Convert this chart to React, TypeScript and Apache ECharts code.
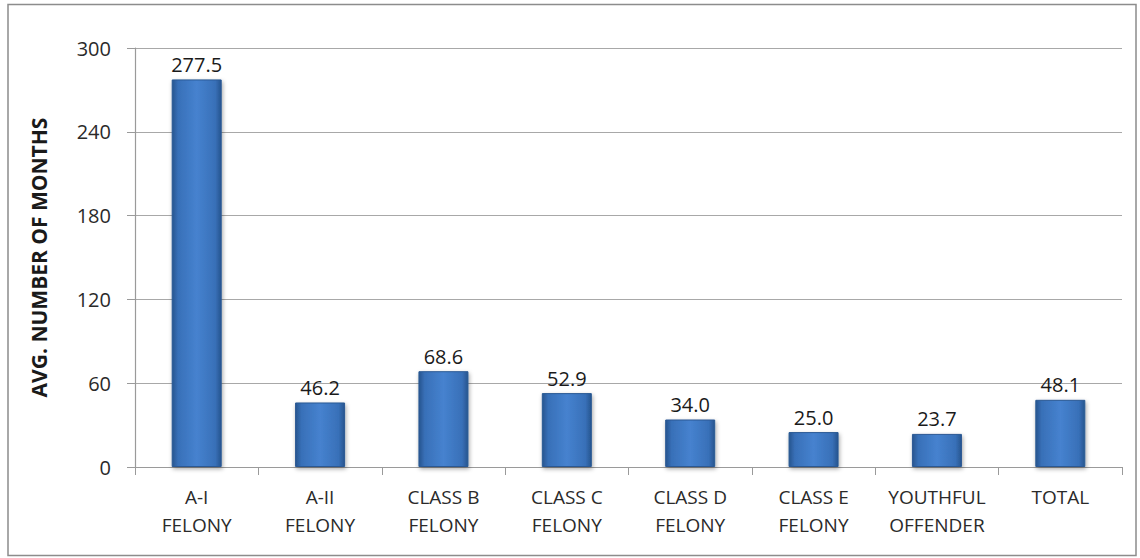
import React, { useEffect, useRef } from "react";
import * as echarts from "echarts";

const categories = ["A-I\nFELONY", "A-II\nFELONY", "CLASS B\nFELONY", "CLASS C\nFELONY", "CLASS D\nFELONY", "CLASS E\nFELONY", "YOUTHFUL\nOFFENDER", "TOTAL"];
const values = [277.5, 46.2, 68.6, 52.9, 34.0, 25.0, 23.7, 48.1];
const yTicks = { min: 0, max: 300, interval: 60 };
const yTitle = "AVG. NUMBER OF MONTHS";

export default function App() {
  const ref = useRef<HTMLDivElement>(null);
  useEffect(() => {
    const chart = echarts.init(ref.current!, null, { renderer: "svg" });
    const font = "'Open Sans', sans-serif";
    chart.setOption({
      animation: false,
      backgroundColor: "#ffffff",
      graphic: [
        {
          type: "rect",
          shape: { x: 8, y: 4.5, width: 1128, height: 551 },
          style: { fill: "none", stroke: "#8c8c8c", lineWidth: 1.5 },
          silent: true,
        },
      ],
      grid: { left: 135, right: 18, top: 48, bottom: 91, containLabel: false },
      xAxis: {
        type: "category",
        data: categories,
        axisLine: { show: true, lineStyle: { color: "#9a9a9a", width: 1.2 } },
        axisTick: { show: true, length: 8, alignWithLabel: false, lineStyle: { color: "#9a9a9a" } },
        axisLabel: {
          color: "#2a2a2a",
          fontSize: 19,
          fontFamily: font,
          lineHeight: 28,
          margin: 16,
          interval: 0,
        },
      },
      yAxis: {
        type: "value",
        min: yTicks.min,
        max: yTicks.max,
        interval: yTicks.interval,
        name: yTitle,
        nameLocation: "middle",
        nameGap: 86,
        nameRotate: 90,
        nameTextStyle: { color: "#1a1a1a", fontSize: 21, fontWeight: "bold", fontFamily: font },
        axisLine: { show: true, lineStyle: { color: "#9a9a9a", width: 1.2 } },
        axisTick: { show: true, length: 8, lineStyle: { color: "#9a9a9a" } },
        axisLabel: { color: "#2a2a2a", fontSize: 20, fontFamily: font, margin: 24 },
        splitLine: { show: true, lineStyle: { color: "#a8a8a8", width: 1 } },
      },
      series: [
        {
          type: "bar",
          data: values,
          barWidth: 50,
          itemStyle: {
            color: new echarts.graphic.LinearGradient(0, 0, 1, 0, [
              { offset: 0, color: "#27558f" },
              { offset: 0.12, color: "#3870b8" },
              { offset: 0.5, color: "#4682cf" },
              { offset: 0.88, color: "#3870b8" },
              { offset: 1, color: "#27558f" },
            ]),
            borderColor: "#2a5994",
            borderWidth: 1,
            shadowColor: "rgba(0,0,0,0.35)",
            shadowBlur: 4,
            shadowOffsetX: 1,
            shadowOffsetY: 2,
          },
          label: {
            show: true,
            position: "top",
            distance: 5,
            color: "#1a1a1a",
            fontSize: 20,
            fontFamily: font,
            formatter: (p: any) => Number(p.value).toFixed(1),
          },
        },
      ],
    });
    return () => chart.dispose();
  }, []);
  return <div ref={ref} style={{ position: "fixed", left: 0, top: 0, width: 1140, height: 558 }} />;
}
